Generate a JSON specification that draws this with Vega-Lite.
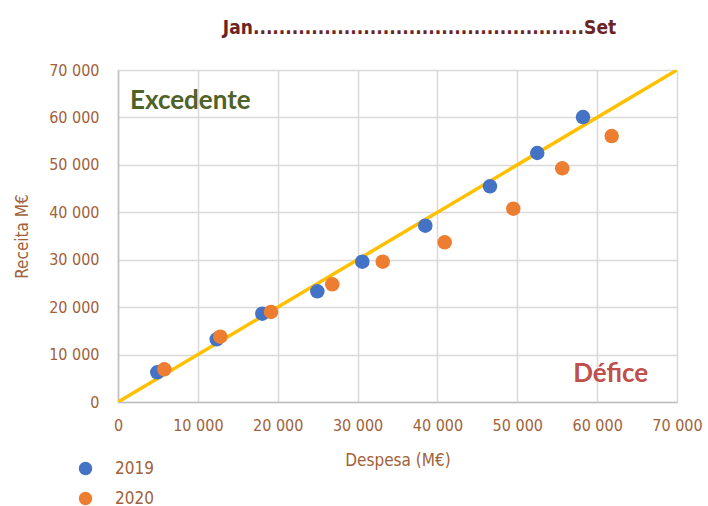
{
  "$schema": "https://vega.github.io/schema/vega-lite/v6.json",
  "width": 559,
  "height": 332,
  "autosize": {"type": "none"},
  "padding": {"left": 118, "top": 70, "right": 31, "bottom": 104},
  "background": "white",
  "config": {
    "locale": {"number": {"decimal": ",", "thousands": " ", "grouping": [3], "currency": ["", " €"]}},
    "view": {"stroke": null},
    "font": "DejaVu Sans Condensed"
  },
  "title": {
    "text": "Jan...................................................Set",
    "anchor": "middle",
    "dx": 22,
    "offset": 24,
    "font": "DejaVu Sans Condensed",
    "fontWeight": "bold",
    "fontSize": 19,
    "color": "#6B2424"
  },
  "datasets": {
    "pts": [
      {"despesa": 4920, "receita": 6260, "ano": "2019"},
      {"despesa": 12360, "receita": 13220, "ano": "2019"},
      {"despesa": 18070, "receita": 18620, "ano": "2019"},
      {"despesa": 24960, "receita": 23340, "ano": "2019"},
      {"despesa": 30590, "receita": 29580, "ano": "2019"},
      {"despesa": 38480, "receita": 37170, "ano": "2019"},
      {"despesa": 46580, "receita": 45480, "ano": "2019"},
      {"despesa": 52500, "receita": 52500, "ano": "2019"},
      {"despesa": 58230, "receita": 60090, "ano": "2019"},
      {"despesa": 5800, "receita": 6890, "ano": "2020"},
      {"despesa": 12810, "receita": 13770, "ano": "2020"},
      {"despesa": 19160, "receita": 18980, "ano": "2020"},
      {"despesa": 26830, "receita": 24820, "ano": "2020"},
      {"despesa": 33150, "receita": 29580, "ano": "2020"},
      {"despesa": 40910, "receita": 33670, "ano": "2020"},
      {"despesa": 49500, "receita": 40750, "ano": "2020"},
      {"despesa": 55630, "receita": 49270, "ano": "2020"},
      {"despesa": 61820, "receita": 56080, "ano": "2020"}
    ],
    "diag": [
      {"despesa": 0, "receita": 0},
      {"despesa": 70000, "receita": 70000}
    ],
    "exc": [
      {"despesa": 1500, "receita": 63500, "label": "Excedente"}
    ],
    "def": [
      {"despesa": 66400, "receita": 5900, "label": "Défice"}
    ]
  },
  "layer": [
    {
      "data": {"name": "diag"},
      "mark": {"type": "line", "color": "#FFC000", "strokeWidth": 3.5, "clip": true},
      "encoding": {
        "x": {
          "field": "despesa", "type": "quantitative",
          "scale": {"domain": [0, 70000], "nice": false},
          "axis": {
            "title": "Despesa (M€)",
            "values": [0, 10000, 20000, 30000, 40000, 50000, 60000, 70000],
            "format": ",d",
            "grid": true, "gridColor": "#D9D9D9", "gridWidth": 1.5,
            "domainColor": "#BFBFBF", "domainWidth": 1.5,
            "ticks": false,
            "labelFlush": false,
            "labelOverlap": false,
            "labelBound": false,
            "labelPadding": 15,
            "labelFont": "DejaVu Sans Condensed", "labelFontSize": 16, "labelColor": "#A0623A",
            "titleFont": "DejaVu Sans Condensed", "titleFontSize": 17, "titleFontWeight": "normal", "titleColor": "#A0623A",
            "titlePadding": 19
          }
        },
        "y": {
          "field": "receita", "type": "quantitative",
          "scale": {"domain": [0, 70000], "nice": false},
          "axis": {
            "title": "Receita M€",
            "values": [0, 10000, 20000, 30000, 40000, 50000, 60000, 70000],
            "format": ",d",
            "grid": true, "gridColor": "#D9D9D9", "gridWidth": 1.5,
            "domainColor": "#BFBFBF", "domainWidth": 1.5,
            "ticks": false,
            "labelFlush": false,
            "labelPadding": 19,
            "labelFont": "DejaVu Sans Condensed", "labelFontSize": 16, "labelColor": "#A0623A",
            "titleFont": "DejaVu Sans Condensed", "titleFontSize": 17, "titleFontWeight": "normal", "titleColor": "#A0623A",
            "titlePadding": 17
          }
        }
      }
    },
    {
      "data": {"name": "pts"},
      "mark": {"type": "point", "filled": true, "opacity": 1, "size": 210},
      "encoding": {
        "x": {"field": "despesa", "type": "quantitative"},
        "y": {"field": "receita", "type": "quantitative"},
        "color": {
          "field": "ano", "type": "nominal",
          "scale": {"domain": ["2019", "2020"], "range": ["#4472C4", "#ED7D31"]},
          "legend": {
            "title": null,
            "orient": "none",
            "legendX": -41,
            "legendY": 390,
            "symbolType": "circle",
            "symbolSize": 180,
            "labelFont": "DejaVu Sans Condensed",
            "labelFontSize": 17,
            "labelColor": "#A0623A",
            "labelOffset": 21,
            "rowPadding": 12
          }
        }
      }
    },
    {
      "data": {"name": "exc"},
      "mark": {"type": "text", "font": "Lato", "fontWeight": "bold", "fontSize": 26, "align": "left", "color": "#4F6228"},
      "encoding": {
        "x": {"field": "despesa", "type": "quantitative"},
        "y": {"field": "receita", "type": "quantitative"},
        "text": {"field": "label"}
      }
    },
    {
      "data": {"name": "def"},
      "mark": {"type": "text", "font": "Lato", "fontWeight": "bold", "fontSize": 26, "align": "right", "color": "#C0504D"},
      "encoding": {
        "x": {"field": "despesa", "type": "quantitative"},
        "y": {"field": "receita", "type": "quantitative"},
        "text": {"field": "label"}
      }
    }
  ]
}
